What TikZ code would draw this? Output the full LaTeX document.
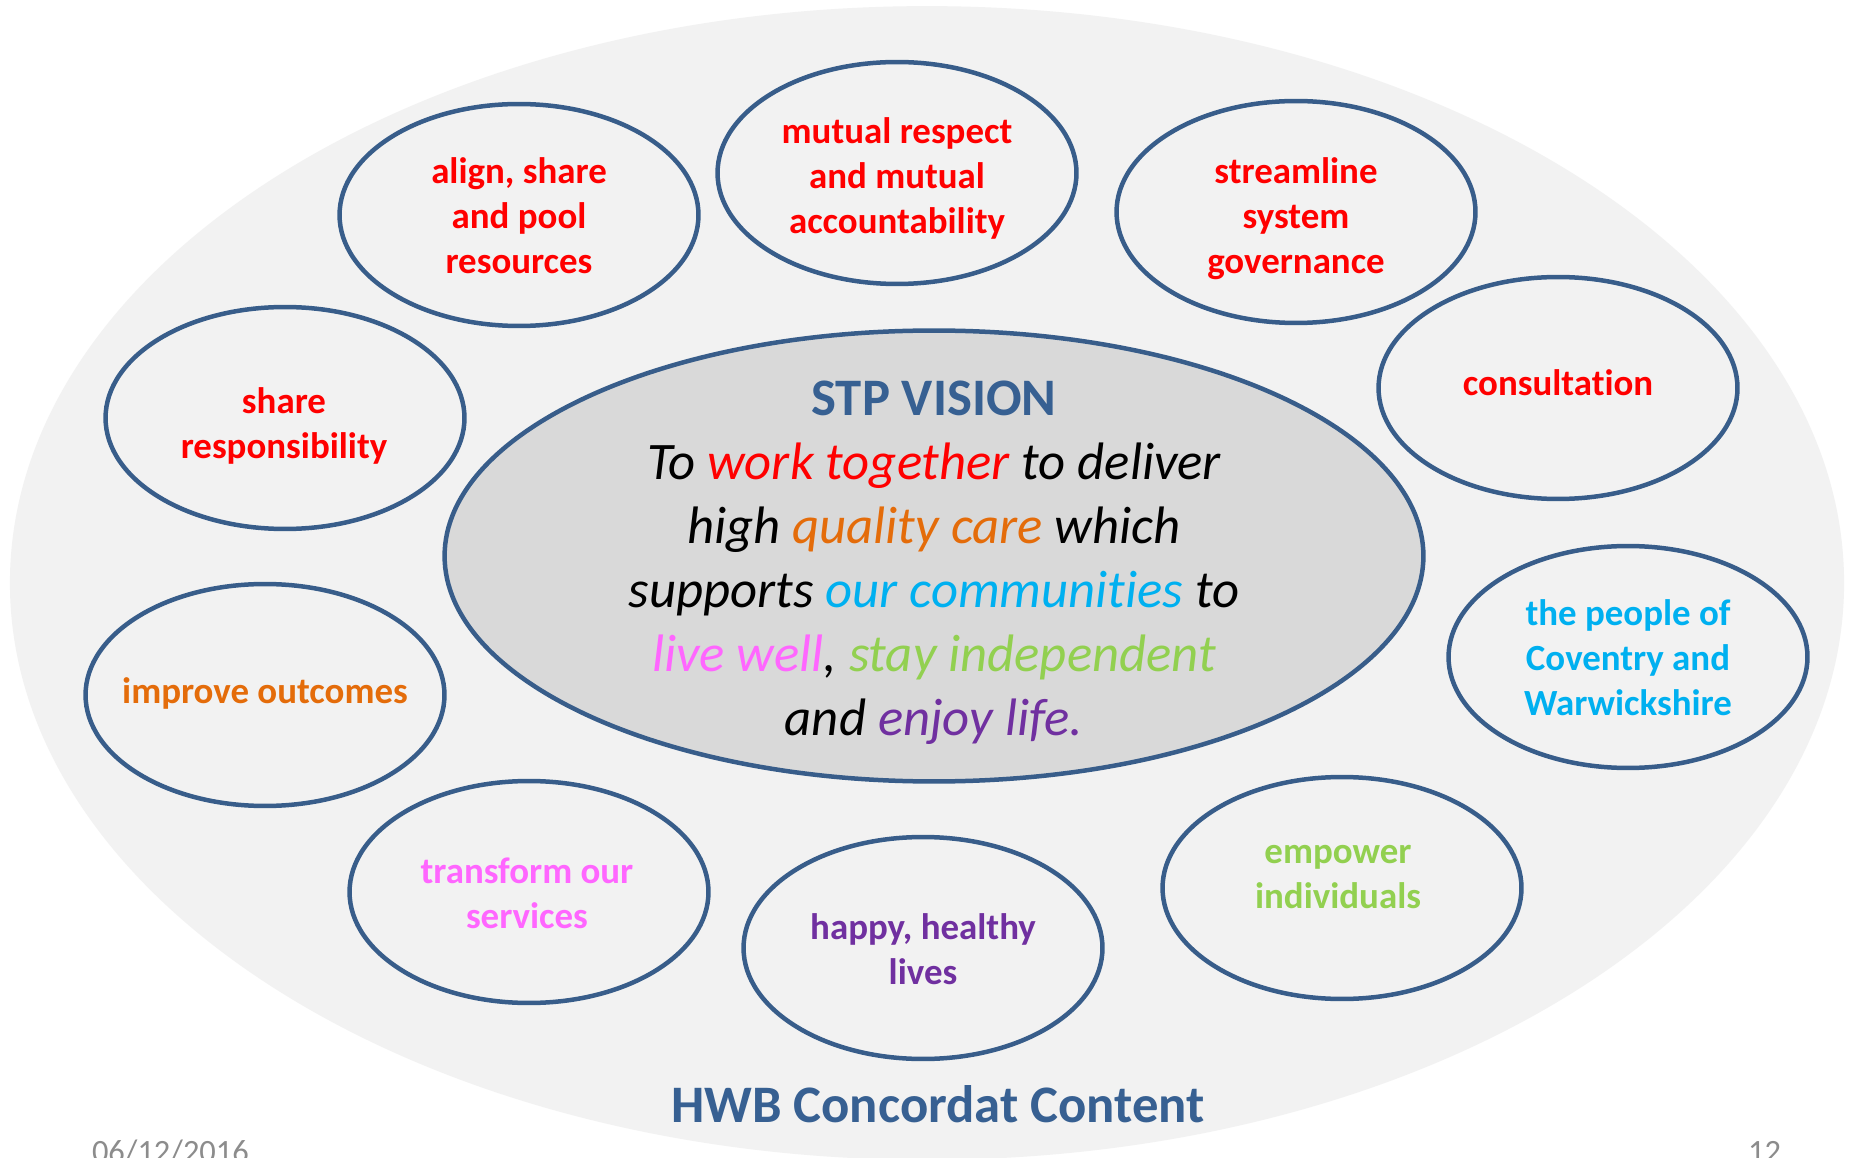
\documentclass[tikz,border=0pt]{standalone}
\usepackage{fontspec}
\setmainfont{Carlito}[Ligatures=NoCommon]
\usetikzlibrary{shapes.geometric}
\definecolor{bgfill}{HTML}{F2F2F2}
\definecolor{cfill}{HTML}{D9D9D9}
\definecolor{oblue}{HTML}{385D8A}
\definecolor{tblue}{HTML}{376092}
\definecolor{cRed}{HTML}{FF0000}
\definecolor{cOrange}{HTML}{E46C0A}
\definecolor{cCyan}{HTML}{00B0F0}
\definecolor{cPink}{HTML}{FF66FF}
\definecolor{cGreen}{HTML}{92D050}
\definecolor{cPurple}{HTML}{7030A0}
\definecolor{cGray}{HTML}{8C8C8C}
\begin{document}
\begin{tikzpicture}[x=0.02cm,y=-0.02cm,
  bubble/.style={ellipse, draw=oblue, line width=0.09cm, fill=bgfill,
    minimum width=7.18cm, minimum height=4.44cm, inner sep=0pt},
  btext/.style={inner sep=0pt, align=center,
    font=\fontsize{21}{25.6}\selectfont\bfseries},
  plain/.style={inner sep=0pt, outer sep=0pt}]
\useasboundingbox[fill=white] (0,0) rectangle (1856,1158);
\node[ellipse, fill=bgfill, minimum width=36.69cm, minimum height=23.08cm, inner sep=0pt] (bg) at (927,583) {};
\node[ellipse, draw=oblue, line width=0.09cm, fill=cfill, minimum width=19.58cm, minimum height=9.02cm, inner sep=0pt] (vision) at (934,556) {};
\node[plain, align=center, font=\fontsize{30}{36.4}\selectfont] (visiontext) at (934,563)
  {\textcolor{tblue}{\bfseries STP VISION}\\
   \itshape To \textcolor{cRed}{work together} to deliver\\
   \itshape high \textcolor{cOrange}{quality care} which\\
   \itshape supports \textcolor{cCyan}{our communities} to\\
   \itshape \textcolor{cPink}{live well}, \textcolor{cGreen}{stay independent}\\
   \itshape and \textcolor{cPurple}{enjoy life.}};
% bubbles
\node[bubble] (align) at (519,215) {};
\node[bubble] (mutual) at (897,173) {};
\node[bubble] (stream) at (1296,212) {};
\node[bubble] (consult) at (1558,388) {};
\node[bubble] (people) at (1628,657) {};
\node[bubble] (empower) at (1342,888) {};
\node[bubble] (happy) at (923,948) {};
\node[bubble] (transform) at (529,892) {};
\node[bubble] (improve) at (265,695) {};
\node[bubble] (shareresp) at (285,418) {};
% bubble texts
\node[btext, text=cRed] (alignT) at (519,216) {align, share\\and pool\\resources};
\node[btext, text=cRed] (mutualT) at (897,178) {mutual respect\\and mutual\\accountability};
\node[btext, text=cRed] (streamT) at (1296,218.5) {streamline\\system\\governance};
\node[btext, text=cRed] (consultT) at (1558,383) {consultation};
\node[btext, text=cCyan] (peopleT) at (1628,658) {the people of\\Coventry and\\Warwickshire};
\node[btext, text=cGreen] (empowerT) at (1338,877) {empower\\individuals};
\node[btext, text=cPurple] (happyT) at (923,949) {happy, healthy\\lives};
\node[btext, text=cPink] (transformT) at (527,893) {transform our\\services};
\node[btext, text=cOrange] (improveT) at (265,693) {improve outcomes};
\node[btext, text=cRed] (sharerespT) at (284,426) {share\\responsibility};
\node[plain, anchor=base, text=tblue, font=\fontsize{30}{36}\selectfont\bfseries] (hwb) at (938,1122) {HWB Concordat Content};
\node[plain, anchor=base west, text=cGray, font=\fontsize{18.5}{22}\selectfont] (date) at (92,1162) {06/12/2016};
\node[plain, anchor=base east, text=cGray, font=\fontsize{18.5}{22}\selectfont] (pnum) at (1781,1162) {12};
\end{tikzpicture}
\end{document}
